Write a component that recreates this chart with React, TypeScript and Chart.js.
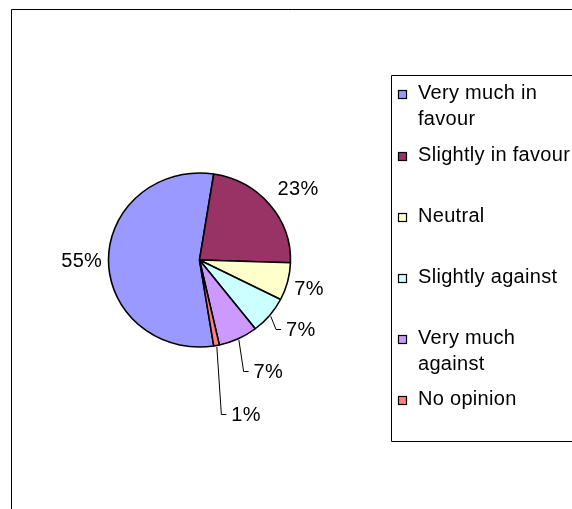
import React, { useEffect, useRef } from 'react';
import { Chart, registerables } from 'chart.js';

Chart.register(...registerables);

// ---- data ----
const categories = [
  'Very much in favour',
  'Slightly in favour',
  'Neutral',
  'Slightly against',
  'Very much against',
  'No opinion',
];
const shares = [55, 23, 7, 7, 7, 1];
const sliceColors = ['#9999FF', '#993366', '#FFFFCC', '#CCFFFF', '#CC99FF', '#FF8080'];

// ---- label placement (layout, relative to each slice's mid angle) ----
const labelAngleShift = [0, 2.2, 0.4, -4.0, -5.5, -5.3]; // degrees
const labelDistance = [117.8, 124, 113.3, 124.6, 134.9, 168.1]; // px from centre
const labelLeader = [false, false, false, true, true, true];

const FONT = '"Liberation Sans", Arial, sans-serif';
const Y_SCALE = 0.956; // the original pie is slightly squashed vertically

function wrapText(ctx: CanvasRenderingContext2D, text: string, maxW: number): string[] {
  const words = text.split(' ');
  const lines: string[] = [];
  let cur = '';
  for (const w of words) {
    const t = cur ? cur + ' ' + w : w;
    if (ctx.measureText(t).width > maxW && cur) {
      lines.push(cur);
      cur = w;
    } else cur = t;
  }
  if (cur) lines.push(cur);
  return lines;
}

const decorPlugin = {
  id: 'decor',
  beforeDraw(chart: any) {
    const ctx = chart.ctx as CanvasRenderingContext2D;
    const W = chart.width;
    const H = chart.height;
    ctx.save();
    ctx.fillStyle = '#fff';
    ctx.fillRect(0, 0, W, H);
    ctx.strokeStyle = '#000';
    ctx.lineWidth = 1;
    // outer frame (continues past the right and bottom edges)
    ctx.beginPath();
    ctx.moveTo(11.5, H + 2);
    ctx.lineTo(11.5, 9.5);
    ctx.lineTo(W + 2, 9.5);
    ctx.stroke();
    // legend box
    ctx.beginPath();
    ctx.moveTo(W + 2, 75.5);
    ctx.lineTo(391.5, 75.5);
    ctx.lineTo(391.5, 441.5);
    ctx.lineTo(W + 2, 441.5);
    ctx.stroke();
    ctx.restore();
  },
  beforeDatasetsDraw(chart: any) {
    const arc = chart.getDatasetMeta(0).data[0];
    const ctx = chart.ctx as CanvasRenderingContext2D;
    ctx.save();
    ctx.translate(arc.x, arc.y);
    ctx.scale(1, Y_SCALE);
    ctx.translate(-arc.x, -arc.y);
  },
  afterDatasetsDraw(chart: any) {
    const ctx = chart.ctx as CanvasRenderingContext2D;
    ctx.restore();

    const meta = chart.getDatasetMeta(0);
    const values: number[] = chart.data.datasets[0].data;
    const total = values.reduce((a, b) => a + b, 0);
    ctx.save();
    ctx.font = `20px ${FONT}`;
    (ctx as any).letterSpacing = '0.3px';
    ctx.fillStyle = '#000';
    ctx.strokeStyle = '#000';
    ctx.lineWidth = 1;
    ctx.textBaseline = 'alphabetic';
    meta.data.forEach((el: any, i: number) => {
      const p = el.getProps(['x', 'y', 'startAngle', 'endAngle', 'outerRadius'], true);
      const mid = (p.startAngle + p.endAngle) / 2;
      const a = mid + (labelAngleShift[i] * Math.PI) / 180;
      const cx = p.x + labelDistance[i] * Math.cos(a);
      const cy = p.y + labelDistance[i] * Math.sin(a) * Y_SCALE;
      const text = Math.round((values[i] / total) * 100) + '%';
      const m = ctx.measureText(text);
      const w = m.width;
      const asc = m.actualBoundingBoxAscent;
      const left = cx - w / 2;
      ctx.textAlign = 'left';
      ctx.fillText(text, left, cy + asc / 2);
      if (labelLeader[i]) {
        const ex = p.x + (p.outerRadius + 1.5) * Math.cos(mid);
        const ey = p.y + (p.outerRadius + 1.5) * Math.sin(mid) * Y_SCALE;
        const ly = Math.round(cy) + 0.5;
        ctx.beginPath();
        ctx.moveTo(ex, ey);
        ctx.lineTo(left - 10, ly);
        ctx.lineTo(left - 5, ly);
        ctx.stroke();
      }
    });
    ctx.restore();
  },
  afterDraw(chart: any) {
    const ctx = chart.ctx as CanvasRenderingContext2D;
    const labels: string[] = chart.data.labels;
    const colors: string[] = chart.data.datasets[0].backgroundColor;
    ctx.save();
    ctx.font = `20px ${FONT}`;
    (ctx as any).letterSpacing = '0.3px';
    ctx.textAlign = 'left';
    ctx.textBaseline = 'alphabetic';
    const capH = ctx.measureText('H').actualBoundingBoxAscent;
    const firstCenter = 92.3;
    const step = 61.2;
    const lineH = 26;
    labels.forEach((lab, i) => {
      const c = firstCenter + step * i;
      // marker
      const top = Math.round(c - 2) + 0.5;
      ctx.fillStyle = colors[i];
      ctx.fillRect(398.5, top, 8, 8);
      ctx.strokeStyle = '#000';
      ctx.lineWidth = 1.2;
      ctx.strokeRect(398.5, top, 8, 8);
      // text
      ctx.fillStyle = '#000';
      const lines = wrapText(ctx, lab, 158);
      lines.forEach((ln, k) => {
        ctx.fillText(ln, 418, c + capH / 2 + k * lineH);
      });
    });
    ctx.restore();
  },
};

export default function App() {
  const ref = useRef<HTMLCanvasElement | null>(null);
  useEffect(() => {
    document.body.style.margin = '0';
    const canvas = ref.current!;
    const chart = new Chart(canvas, {
      type: 'pie',
      data: {
        labels: categories,
        datasets: [
          {
            data: shares,
            backgroundColor: sliceColors,
            borderColor: '#000',
            borderWidth: 1.6,
          },
        ],
      },
      options: {
        responsive: false,
        animation: false,
        rotation: 171,
        radius: 91,
        layout: { padding: { left: 100, right: 273, top: 160, bottom: 149 } },
        plugins: {
          legend: { display: false },
          tooltip: { enabled: false },
        },
      } as any,
      plugins: [decorPlugin],
    });
    return () => chart.destroy();
  }, []);
  return (
    <div style={{ width: 572, height: 509 }}>
      <canvas ref={ref} width={572} height={509} style={{ display: 'block' }} />
    </div>
  );
}
